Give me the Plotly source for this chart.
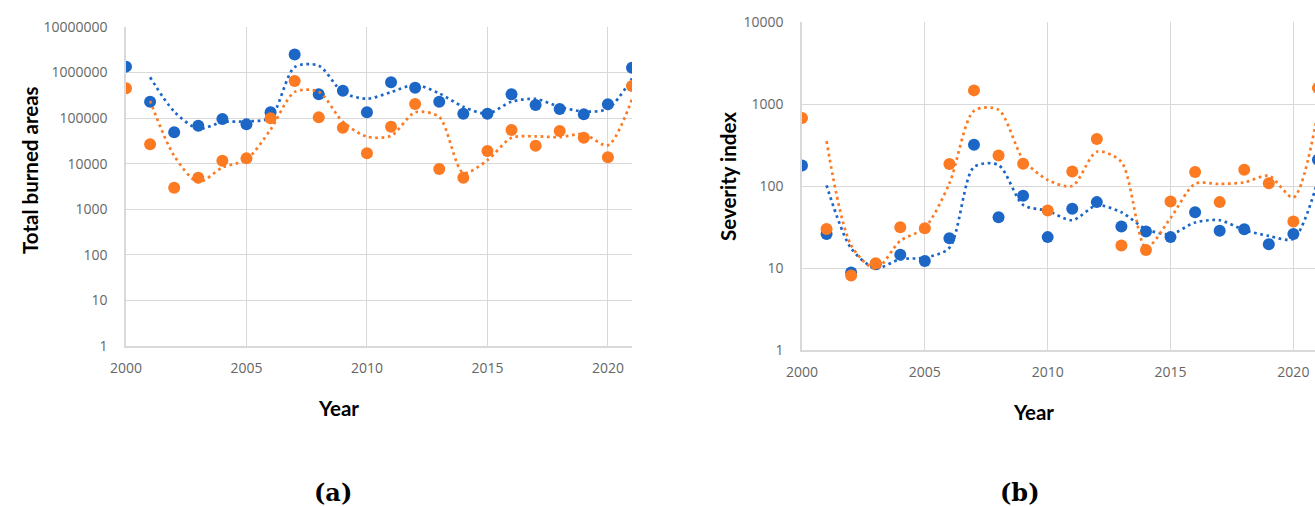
import pandas as pd
import plotly.graph_objects as go

# ---- data -------------------------------------------------------------
years = list(range(2000, 2022))

# (a) total burned areas
burned_blue = [1350000, 230000, 49000, 68000, 96000, 73000, 134000, 2500000,
               334000, 400000, 134000, 612000, 467000, 230000, 125000, 125000,
               334000, 194000, 159000, 121000, 201000, 1280000]
burned_orange = [452000, 26700, 2980, 4930, 11600, 13100, 99000, 653000,
                 104000, 61700, 16900, 64900, 204000, 7650, 4930, 19000,
                 55000, 24800, 52000, 37000, 13800, 507000]

# (b) severity index
severity_blue = [178, 25.9, 8.8, 11.1, 14.5, 12.2, 23.1, 318, 41.7, 75.9, 23.8,
                 52.7, 63.6, 32, 27.8, 23.8, 48, 28.4, 29.7, 19.5, 25.9, 209]
severity_orange = [675, 29.8, 8.1, 11.4, 31.5, 30.6, 185, 1466, 236, 187, 50.2,
                   150, 374, 18.8, 16.6, 64.7, 148, 63.6, 158, 108, 36.9, 1567]

BLUE = "#1c66c6"
ORANGE = "#fb7a22"
W, H = 1315, 506


def moving_avg(vals):
    """Two-period moving-average trendline."""
    return pd.Series(vals).rolling(2).mean().tolist()


fig = go.Figure()


def add_series(vals, color, xa, ya):
    fig.add_trace(go.Scatter(
        x=years, y=moving_avg(vals), mode="lines", xaxis=xa, yaxis=ya,
        line=dict(color=color, width=2.7, dash="2.7px,3.6px", shape="spline",
                  smoothing=0.8),
        hoverinfo="skip", showlegend=False, connectgaps=False))
    fig.add_trace(go.Scatter(
        x=years, y=vals, mode="markers", xaxis=xa, yaxis=ya,
        marker=dict(color=color, size=12, line=dict(width=0)),
        showlegend=False, cliponaxis=True))


add_series(burned_blue, BLUE, "x", "y")
add_series(burned_orange, ORANGE, "x", "y")
add_series(severity_blue, BLUE, "x2", "y2")
add_series(severity_orange, ORANGE, "x2", "y2")

tick_font = dict(family="Open Sans", size=14, color="#666666")
grid = "#d9d9d9"


def xaxis(domain, rng):
    return dict(domain=domain, range=rng, tickvals=[2000, 2005, 2010, 2015, 2020],
                showgrid=True, gridcolor=grid, gridwidth=1, zeroline=False,
                showline=True, linecolor=grid, linewidth=1.5,
                ticks="", tickfont=tick_font, ticklabelstandoff=8,
                automargin=False, fixedrange=True)


def yaxis(domain, rng, anchor, vals):
    return dict(domain=domain, type="log", range=rng, anchor=anchor,
                tickvals=vals, ticktext=[str(v) for v in vals],
                showgrid=True, gridcolor=grid, gridwidth=1, zeroline=False,
                showline=True, linecolor=grid, linewidth=1.5,
                ticks="", tickfont=tick_font, ticklabelstandoff=14,
                automargin=False, fixedrange=True)


fig.update_layout(
    width=W, height=H,
    margin=dict(l=0, r=0, t=0, b=0, autoexpand=False),
    paper_bgcolor="white", plot_bgcolor="white",
    xaxis=xaxis([126 / W, 632 / W], [2000, 2021]),
    yaxis=yaxis([1 - 346 / H, 1 - 27 / H], [0, 7], "x",
                [1, 10, 100, 1000, 10000, 100000, 1000000, 10000000]),
    xaxis2=dict(xaxis([802 / W, 1.0], [2000, 2020.88]), anchor="y2"),
    yaxis2=yaxis([1 - 350 / H, 1 - 22 / H], [0, 4], "x2",
                 [1, 10, 100, 1000, 10000]),
)

title_font = dict(family="Lato", size=20.5, color="black")
label_font = dict(family="DejaVu Serif", size=24, color="black")

annotations = [
    dict(text="<b>Total burned areas</b>", x=30 / W, y=1 - 170 / H, textangle=-90,
         font=title_font),
    dict(text="<b>Year</b>", x=338 / W, y=1 - 408 / H, font=title_font),
    dict(text="<b>(a)</b>", x=333 / W, y=1 - 492 / H, font=label_font),
    dict(text="<b>Severity index</b>", x=728 / W, y=1 - 177 / H, textangle=-90,
         font=title_font),
    dict(text="<b>Year</b>", x=1033 / W, y=1 - 412 / H, font=title_font),
    dict(text="<b>(b)</b>", x=1020 / W, y=1 - 492 / H, font=label_font),
]
for a in annotations:
    a.update(xref="paper", yref="paper", showarrow=False,
             xanchor="center", yanchor="middle")
fig.update_layout(annotations=annotations)

# remove the page's default body margin so the figure sits at the window origin
fig.write_html("out.html", config={"displayModeBar": False},
               post_script="document.body.style.margin='0';")
